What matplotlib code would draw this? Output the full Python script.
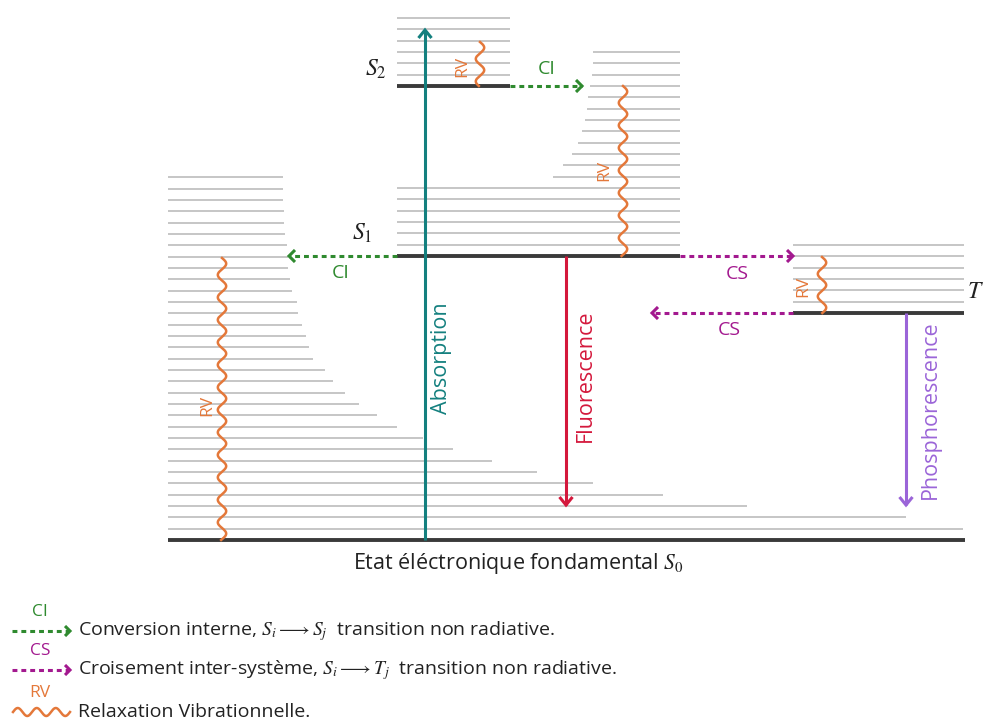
import numpy as np
import matplotlib
matplotlib.use('Agg')
import matplotlib.pyplot as plt

plt.rcParams['font.family'] = ['Open Sans', 'DejaVu Sans']
plt.rcParams['mathtext.fontset'] = 'stix'

# ---------------- data (diagram coordinates, y grows downward) ----------------
# electronic states
state_names = ['S0', 'S1', 'S2', 'T1']
state_y = [540, 256, 86, 313]
state_x0 = [168, 397, 397, 793]
state_x1 = [965, 680, 510, 964]
vib_spacing = 11.33

# vibrational sub-levels
s0_vib_right = [963, 906, 747, 663, 593, 537, 492, 453, 423, 397, 377, 359, 345, 333,
                325, 313, 309, 306, 302, 298, 297, 292, 290, 288, 288, 287, 285, 284,
                284, 283, 283, 283]
s1_vib_left = [397, 397, 397, 397, 397, 397, 553, 563, 572, 578, 582, 585, 587, 588,
               590, 592, 593, 593]
s2_vib_count = 6
t1_vib_count = 6

# radiative transitions: label, x, y_from, y_to, colour
rad_labels = ['Absorption', 'Fluorescence', 'Phosphorescence']
rad_x = [425, 566, 906]
rad_from = [540, 256, 313]
rad_to = [30, 505, 505]
rad_colors = ['#14807f', '#d4183c', '#9b65d8']
rad_label_x = [441, 585, 930]
rad_label_y = [358, 376, 410]

# non-radiative transitions: label, y, x_from, x_to
nr_labels = ['CI', 'CI', 'CS', 'CS']
nr_y = [86, 256, 256, 313]
nr_from = [510, 397, 680, 793]
nr_to = [582, 289, 793, 652]
nr_label_pos = [(547, 69), (341, 273), (737, 274), (729, 330)]

# vibrational relaxation: x, y_from, y_to, label position
rv_x = [480, 623, 822, 222]
rv_from = [42, 86, 257, 258]
rv_to = [86, 256, 313, 540]
rv_label_pos = [(462, 66), (604, 170), (803, 286), (207, 405)]

GREEN = '#2f8a2f'
MAGENTA = '#a3198f'
ORANGE = '#e4783a'
GRAY = '#bcbcbc'
DARK = '#3a3a3a'
TXT = '#222222'

fig = plt.figure(figsize=(9.84, 7.25), dpi=100)
ax = fig.add_axes([0, 0, 1, 1])
ax.set_xlim(0, 984)
ax.set_ylim(725, 0)
ax.axis('off')


def hline(y, x0, x1, **kw):
    ax.plot([x0, x1], [y, y], solid_capstyle='butt', **kw)


def chevron(xt, yt, dx, dy, color, lw, L=8, W=6.5):
    # open arrow head at (xt, yt) pointing in direction (dx, dy)
    n = np.hypot(dx, dy)
    ux, uy = dx / n, dy / n
    px, py = -uy, ux
    ax.plot([xt - L * ux + W * px, xt, xt - L * ux - W * px],
            [yt - L * uy + W * py, yt, yt - L * uy - W * py],
            color=color, lw=lw, solid_joinstyle='miter', solid_capstyle='butt', zorder=5)


def wavy(x, y0, y1, color, amp=4.2, period=22.5, lw=1.8):
    yy = np.linspace(y0, y1, 600)
    xx = x + amp * np.sin(2 * np.pi * (yy - y0) / period)
    ax.plot(xx, yy, color=color, lw=lw, zorder=4)


# vibrational sub-levels
for i, xr in enumerate(s0_vib_right):
    hline(state_y[0] - (i + 1) * vib_spacing, state_x0[0], xr, color=GRAY, lw=1.2, zorder=1)
for i, xl in enumerate(s1_vib_left):
    hline(state_y[1] - (i + 1) * vib_spacing, xl, state_x1[1], color=GRAY, lw=1.2, zorder=1)
for i in range(s2_vib_count):
    hline(state_y[2] - (i + 1) * vib_spacing, state_x0[2], state_x1[2], color=GRAY, lw=1.2, zorder=1)
for i in range(t1_vib_count):
    hline(state_y[3] - (i + 1) * vib_spacing, state_x0[3], state_x1[3], color=GRAY, lw=1.2, zorder=1)

# electronic states
for y, x0, x1 in zip(state_y, state_x0, state_x1):
    hline(y, x0, x1, color=DARK, lw=2.8, zorder=2)

# radiative transitions
for lab, x, y0, y1, c, lx, ly in zip(rad_labels, rad_x, rad_from, rad_to, rad_colors,
                                      rad_label_x, rad_label_y):
    ax.plot([x, x], [y0, y1], color=c, lw=2.2, zorder=3, solid_capstyle='butt')
    chevron(x, y1, 0, y1 - y0, c, 2.2)
    ax.text(lx, ly, lab, rotation=90, color=c, fontsize=15.5, ha='center', va='center')

# non-radiative transitions
for lab, y, x0, x1, (lx, ly) in zip(nr_labels, nr_y, nr_from, nr_to, nr_label_pos):
    c = GREEN if lab == 'CI' else MAGENTA
    ax.plot([x0, x1], [y, y], color=c, lw=2.2, linestyle=(0, (1.6, 1.3)), zorder=3)
    chevron(x1, y, x1 - x0, 0, c, 2.2, L=6, W=6)
    ax.text(lx, ly, lab, color=c, fontsize=14, ha='center', va='center')

# vibrational relaxation
for x, y0, y1, (lx, ly) in zip(rv_x, rv_from, rv_to, rv_label_pos):
    wavy(x, y0, y1, ORANGE)
    ax.text(lx, ly, 'RV', rotation=90, color=ORANGE, fontsize=12.5, ha='center', va='center')

# state labels
ax.text(376, 70, r'$S_2$', fontsize=17, ha='center', va='center', color=TXT)
ax.text(362, 234, r'$S_1$', fontsize=17, ha='center', va='center', color=TXT)
ax.text(975, 292, r'$T$', fontsize=17, ha='center', va='center', color=TXT)
ax.text(518, 563, r'Etat éléctronique fondamental $S_0$', fontsize=15.5, ha='center',
        va='center', color=TXT)

# legend
leg_y = [631, 670, 712]
leg_labels = ['CI', 'CS', 'RV']
leg_colors = [GREEN, MAGENTA, ORANGE]
leg_texts = [r'Conversion interne, $S_i \longrightarrow S_j$  transition non radiative.',
             r'Croisement inter-système, $S_i \longrightarrow T_j$  transition non radiative.',
             'Relaxation Vibrationnelle.']
for y, lab, c, t in zip(leg_y, leg_labels, leg_colors, leg_texts):
    if lab == 'RV':
        xx = np.linspace(13, 70, 300)
        ax.plot(xx, y + 4 * np.sin(2 * np.pi * (xx - 13) / 19.0 + np.pi), color=c, lw=1.8)
    else:
        ax.plot([12, 68], [y, y], color=c, lw=2.2, linestyle=(0, (1.6, 1.3)))
        chevron(70, y, 1, 0, c, 2.2, L=5, W=5)
    ax.text(40, y - 19, lab, color=c, fontsize=12.5, ha='center', va='center')
    ax.text(78, y, t, color=TXT, fontsize=14, ha='left', va='center')

fig.savefig('out.png', dpi=100)
